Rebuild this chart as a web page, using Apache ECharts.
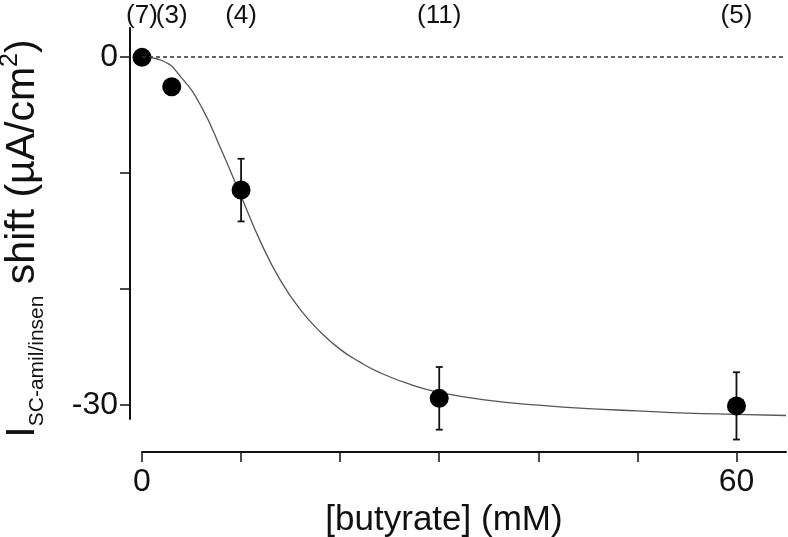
<!DOCTYPE html>
<html>
<head>
<meta charset="utf-8">
<script src="https://cdn.jsdelivr.net/npm/echarts@6/dist/echarts.min.js"></script>
<style>
  html, body { margin: 0; padding: 0; background: #fff; }
  #chart { width: 788px; height: 537px; }
</style>
</head>
<body>
<div id="chart"></div>
<script>
// measured points, mean +/- SEM
const doseX = [0, 3, 10, 30, 60];
const shiftY = [-0.03, -2.56, -11.47, -29.42, -30.07];
const semY = [0, 0, 2.7, 2.7, 2.9];
const counts = ['(7)', '(3)', '(4)', '(11)', '(5)'];

// fitted curve
const fitX = [0, 2, 4, 6, 8, 10, 12, 14, 16, 18, 20, 22, 24, 27, 30, 35, 40, 45, 50, 55, 60, 65];
const fitY = [0, -0.3, -1.8, -4.3, -8.0, -12.0, -16.0, -19.3, -21.8, -23.7, -25.2, -26.3, -27.2, -28.2, -28.9, -29.6, -30.0, -30.3, -30.5, -30.7, -30.8, -30.9];

const xTicks = [0, 10, 20, 30, 40, 50, 60];
const xLabels = [0, 60];
const yTicks = [-30, -20, -10, 0];
const yLabels = [-30, 0];

const FONT = 'Liberation Sans';
const INK = '#111';

const chart = echarts.init(document.getElementById('chart'));

chart.setOption({
  backgroundColor: '#fff',
  animation: false,
  textStyle: { fontFamily: FONT },
  grid: { left: 142, right: 2, top: 28, bottom: 118, outerBoundsMode: 'none', containLabel: false },
  xAxis: {
    type: 'value',
    min: 0,
    max: 65,
    offset: 33,
    splitLine: { show: false },
    axisLine: { onZero: false, lineStyle: { color: INK, width: 2 } },
    axisTick: { customValues: xTicks, length: 10, lineStyle: { color: INK, width: 1.5 } },
    axisLabel: { customValues: xLabels, color: INK, fontSize: 32, margin: 14 },
    name: '[butyrate] (mM)',
    nameLocation: 'middle',
    nameGap: 48,
    nameTextStyle: { color: INK, fontSize: 35, fontFamily: FONT, padding: [0, 40, 0, 0] }
  },
  yAxis: {
    type: 'value',
    min: -31.2,
    max: 2.5,
    offset: 12,
    splitLine: { show: false },
    axisLine: { onZero: false, lineStyle: { color: INK, width: 2 } },
    axisTick: { customValues: yTicks, length: 10, lineStyle: { color: INK, width: 1.5 } },
    axisLabel: { customValues: yLabels, color: INK, fontSize: 32, margin: 12 },
    name: '{big|I}{sub|SC-amil/insen}{big| shift (µA/cm}{sup|2}{big|)}',
    nameLocation: 'middle',
    nameGap: 82,
    nameTextStyle: {
      color: INK,
      fontFamily: FONT,
      padding: [0, 30, 0, 0],
      rich: {
        big: { fontSize: 41, color: INK, fontFamily: FONT, lineHeight: 50 },
        sub: { fontSize: 21, color: INK, fontFamily: FONT, verticalAlign: 'bottom', lineHeight: 50 },
        sup: { fontSize: 25, color: INK, fontFamily: FONT, verticalAlign: 'top', lineHeight: 50 }
      }
    }
  },
  series: [
    {
      type: 'line',
      name: 'fit',
      data: fitX.map((x, i) => [x, fitY[i]]),
      smooth: true,
      showSymbol: false,
      lineStyle: { color: '#555', width: 1.3 },
      z: 2,
      markLine: {
        silent: true,
        symbol: 'none',
        label: { show: false },
        lineStyle: { color: '#333', width: 1.5, type: [4, 3] },
        data: [{ yAxis: 0 }]
      }
    },
    {
      type: 'custom',
      name: 'sem',
      z: 3,
      data: doseX.map((x, i) => [x, shiftY[i] - semY[i], shiftY[i] + semY[i]]),
      renderItem: function (params, api) {
        const lo = api.value(1);
        const hi = api.value(2);
        if (hi - lo < 0.01) return null;
        const p1 = api.coord([api.value(0), lo]);
        const p2 = api.coord([api.value(0), hi]);
        const cap = 7;
        const st = { stroke: INK, lineWidth: 1.8 };
        return {
          type: 'group',
          children: [
            { type: 'line', shape: { x1: p1[0], y1: p1[1], x2: p2[0], y2: p2[1] }, style: st },
            { type: 'line', shape: { x1: p1[0] - cap / 2, y1: p1[1], x2: p1[0] + cap / 2, y2: p1[1] }, style: st },
            { type: 'line', shape: { x1: p2[0] - cap / 2, y1: p2[1], x2: p2[0] + cap / 2, y2: p2[1] }, style: st }
          ]
        };
      }
    },
    {
      type: 'scatter',
      name: 'mean',
      z: 4,
      symbol: 'circle',
      symbolSize: 19,
      itemStyle: { color: '#000', opacity: 1 },
      data: doseX.map((x, i) => [x, shiftY[i]])
    },
    {
      type: 'custom',
      name: 'n',
      z: 5,
      clip: false,
      data: doseX.map((x, i) => [x, 0, i]),
      renderItem: function (params, api) {
        const p = api.coord([api.value(0), 0]);
        return {
          type: 'text',
          style: {
            text: counts[api.value(2)],
            x: p[0],
            y: 16,
            align: 'center',
            verticalAlign: 'middle',
            fill: INK,
            font: '26px "Liberation Sans"'
          }
        };
      }
    }
  ]
});
</script>
</body>
</html>
